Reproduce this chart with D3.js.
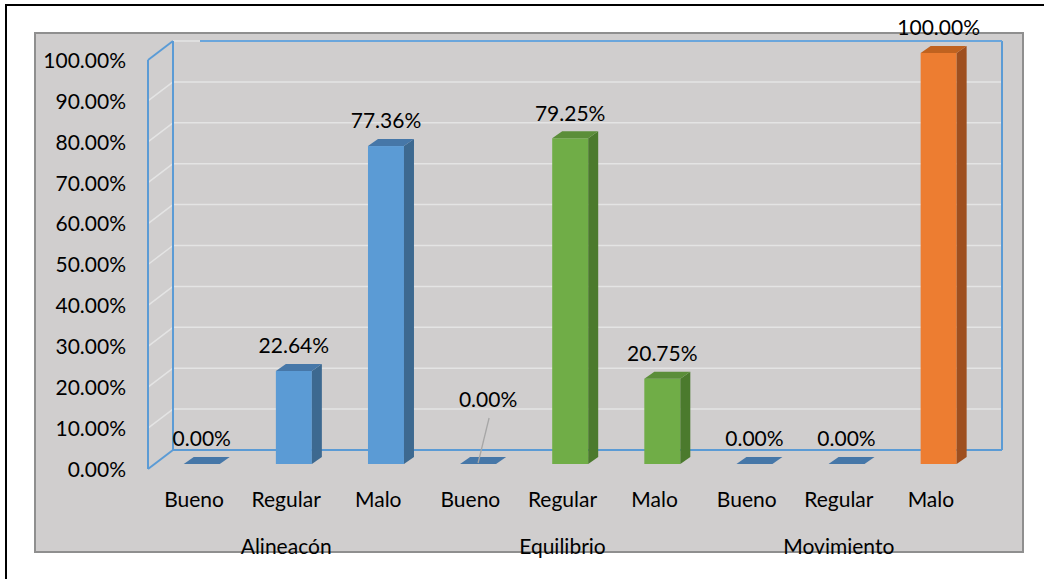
<!DOCTYPE html>
<html>
<head>
<meta charset="utf-8">
<script src="https://cdn.jsdelivr.net/npm/d3@7"></script>
<style>
html,body{margin:0;padding:0;background:#fff;}
svg{display:block;}
text{font-family:Lato,"Open Sans",sans-serif;fill:#000;}
</style>
</head>
<body>
<svg id="chart" width="1044" height="579"></svg>
<script>
// ---- data ----
const groups = ["Alineacón", "Equilibrio", "Movimiento"];
const levels = ["Bueno", "Regular", "Malo"];
const values = [0, 22.64, 77.36, 0, 79.25, 20.75, 0, 0, 100];
const pointColor = ["blue", "blue", "blue", "blue", "green", "green", "blue", "blue", "orange"];
const yTicks = [0, 10, 20, 30, 40, 50, 60, 70, 80, 90, 100];

const palette = {
  blue:   {front: "#5b9bd5", side: "#3d6990", top: "#4677a8"},
  green:  {front: "#70ad47", side: "#4b7a2d", top: "#5b8e39"},
  orange: {front: "#ed7d31", side: "#9e4f1f", top: "#c0621f"}
};

const points = [];
groups.forEach((g, gi) => levels.forEach((l, li) => {
  const i = gi * levels.length + li;
  points.push({key: g + "|" + l, group: g, level: l, value: values[i], color: pointColor[i], idx: i});
}));

// ---- layout ----
const svg = d3.select("#chart");
const W = 1044, H = 579;

// outer frame (left + top border)
svg.append("line").attr("x1", 6).attr("y1", 4).attr("x2", 6).attr("y2", H).attr("stroke", "#000").attr("stroke-width", 2);
svg.append("line").attr("x1", 5).attr("y1", 5).attr("x2", W).attr("y2", 5).attr("stroke", "#000").attr("stroke-width", 2);

// plot area
svg.append("rect").attr("x", 35).attr("y", 33).attr("width", 988).attr("height", 519)
  .attr("fill", "#d0cece").attr("stroke", "#8f8f8f").attr("stroke-width", 2);

const front = {x0: 148, x1: 977, y0: 469, y1: 60};
const depth = {dx: 25, dy: -19};

const x = d3.scaleBand().domain(points.map(d => d.key)).range([front.x0, front.x1]).padding(0);
const yFront = d3.scaleLinear().domain([0, 100]).range([front.y0, front.y1]);
const yBack = d3.scaleLinear().domain([0, 100]).range([front.y0 + depth.dy, front.y1 + depth.dy]);
const yBar = d3.scaleLinear().domain([0, 100]).range([464, 53]);

const backL = front.x0 + depth.dx, backR = front.x1 + depth.dx;

// gridlines on back wall and side wall
const grid = svg.append("g");
yTicks.forEach(t => {
  if (t === 0) return;
  grid.append("line").attr("x1", backL).attr("x2", backR).attr("y1", yBack(t)).attr("y2", yBack(t))
    .attr("stroke", "#e4e4e4").attr("stroke-width", 1.5);
  grid.append("line").attr("x1", front.x0).attr("x2", backL).attr("y1", yFront(t)).attr("y2", yBack(t))
    .attr("stroke", "#e4e4e4").attr("stroke-width", 1.5);
});

// blue frame
const blue = "#5b9bd5";
const frame = svg.append("g").attr("stroke", blue).attr("stroke-width", 2).attr("fill", "none");
frame.append("line").attr("x1", front.x0).attr("x2", front.x0).attr("y1", yFront(100)).attr("y2", yFront(0));
frame.append("line").attr("x1", front.x0).attr("x2", backL).attr("y1", yFront(100)).attr("y2", yBack(100));
frame.append("line").attr("x1", front.x0).attr("x2", backL).attr("y1", yFront(0)).attr("y2", yBack(0));
frame.append("line").attr("x1", backL).attr("x2", backL).attr("y1", yBack(100)).attr("y2", yBack(0));
frame.append("line").attr("x1", backL).attr("x2", backR).attr("y1", yBack(0)).attr("y2", yBack(0));
frame.append("line").attr("x1", backR).attr("x2", backR).attr("y1", yBack(100)).attr("y2", yBack(0));
frame.append("line").attr("x1", backL + 27).attr("x2", backR).attr("y1", yBack(100)).attr("y2", yBack(100)).attr("stroke", "#6aa6dc");

// y axis labels (front plane)
const yAxis = d3.axisLeft(yFront).tickValues(yTicks).tickSize(0).tickPadding(0)
  .tickFormat(d => d.toFixed(2) + "%");
const ya = svg.append("g").attr("transform", "translate(126,0)").call(yAxis);
ya.select(".domain").remove();
ya.selectAll("text").style("font-family", "Lato, sans-serif").style("font-size", "21px").attr("fill", "#000").attr("dy", "0.35em");

// bars
const barW = 36, sdx = 10, sdy = -7, barOff = 7.7;
const bars = svg.append("g");
points.forEach(d => {
  const cx = x(d.key) + x.bandwidth() / 2 + barOff;
  const xl = cx - barW / 2, xr = cx + barW / 2;
  const yb = yBar(0), yt = yBar(d.value);
  const c = palette[d.color];
  if (d.value > 0) {
    bars.append("rect").attr("x", xl).attr("y", yt).attr("width", barW).attr("height", yb - yt).attr("fill", c.front);
    bars.append("path").attr("d", `M${xr},${yt}L${xr + sdx},${yt + sdy}L${xr + sdx},${yb + sdy}L${xr},${yb}Z`).attr("fill", c.side);
  }
  bars.append("path").attr("d", `M${xl},${yt}L${xr},${yt}L${xr + sdx},${yt + sdy}L${xl + sdx},${yt + sdy}Z`).attr("fill", c.top);
});

// value labels
const lbl = svg.append("g");
points.forEach(d => {
  const cx = x(d.key) + x.bandwidth() / 2 + barOff;
  const yt = yBar(d.value);
  const leader = (d.group === "Equilibrio" && d.value === 0);
  const ly = leader ? yt - 64 : yt - 25;
  const lx = leader ? cx + 10 : cx;
  if (leader) {
    lbl.append("line").attr("x1", cx).attr("y1", yt - 1).attr("x2", cx + 11).attr("y2", yt - 46)
      .attr("stroke", "#a6a6a6").attr("stroke-width", 1.3);
  }
  lbl.append("text").attr("x", lx).attr("y", ly).attr("dy", "0.35em").attr("text-anchor", "middle")
    .style("font-size", "21px").text(d.value.toFixed(2) + "%");
});

// category labels
const cat = svg.append("g");
points.forEach(d => {
  cat.append("text").attr("x", x(d.key) + x.bandwidth() / 2).attr("y", 507).attr("text-anchor", "middle")
    .style("font-size", "21px").text(d.level);
});
groups.forEach(g => {
  const mid = points.find(p => p.group === g && p.level === levels[1]);
  cat.append("text").attr("x", x(mid.key) + x.bandwidth() / 2).attr("y", 554).attr("text-anchor", "middle")
    .style("font-size", "21px").text(g);
});
</script>
</body>
</html>
